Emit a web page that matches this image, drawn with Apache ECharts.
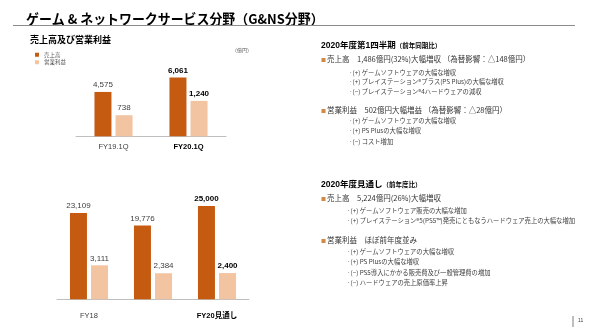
<!DOCTYPE html>
<html>
<head>
<meta charset="utf-8">
<script src="https://cdn.jsdelivr.net/npm/echarts@6/dist/echarts.min.js"></script>
<style>
html, body { margin: 0; padding: 0; background: #fff; }
#gns_charts { width: 590px; height: 329px; }
</style>
</head>
<body>
<div id="gns_charts"></div>
<script>
// 四半期（億円）
var qCategories = ['FY19.1Q', 'FY20.1Q']
var qSales = [4575, 6061]
var qProfit = [738, 1240]
// 通期（億円）
var yCategories = ['FY18', 'FY19', 'FY20見通し']
var ySales = [23109, 19776, 25000]
var yProfit = [3111, 2384, 2400]
var seriesNames = ['売上高', '営業利益']

var FONT = "'Liberation Sans', 'Noto Sans CJK JP', sans-serif"
var JP = "'Noto Sans CJK JP', sans-serif"
var SALES_COLOR = '#C55A11'
var PROFIT_COLOR = '#F2C4A2'

// 右側のテキスト
var q1Lines = [
  { y: 59.5, main: true, text: '売上高　1,486億円(32%)大幅増収 （為替影響：△148億円）' },
  { y: 72.5, text: '·(+) ゲームソフトウェアの大幅な増収' },
  { y: 82, text: '·(+) プレイステーション®プラス(PS Plus)の大幅な増収' },
  { y: 91.5, text: '·(−) プレイステーション®4ハードウェアの減収' },
  { y: 110.5, main: true, text: '営業利益　502億円大幅増益 （為替影響：△28億円）' },
  { y: 120.5, text: '·(+) ゲームソフトウェアの大幅な増収' },
  { y: 130.5, text: '·(+) PS Plusの大幅な増収' },
  { y: 141.5, text: '·(−) コスト増加' }
]
var fyLines = [
  { y: 198.5, main: true, text: '売上高　5,224億円(26%)大幅増収' },
  { y: 211, text: '·(+) ゲームソフトウェア販売の大幅な増加' },
  { y: 221, text: '·(+) プレイステーション®5(PS5™)発売にともなうハードウェア売上の大幅な増加' },
  { y: 240, main: true, text: '営業利益　ほぼ前年度並み' },
  { y: 251.5, text: '·(+) ゲームソフトウェアの大幅な増収' },
  { y: 261.5, text: '·(+) PS Plusの大幅な増収' },
  { y: 272.5, text: '·(−) PS5導入にかかる販売費及び一般管理費の増加' },
  { y: 283, text: '·(−) ハードウェアの売上原価率上昇' }
]

function fmt (v) {
  return Number(v).toLocaleString('en-US')
}

// 最後の項目だけ太字
function lastBold (data) {
  return data.map(function (v, i) {
    if (i === data.length - 1) {
      return { value: v, label: { fontWeight: 'bold', color: '#000' } }
    }
    return v
  })
}

function barSeries (name, data, xIdx, yIdx, color) {
  return {
    name: name,
    type: 'bar',
    xAxisIndex: xIdx,
    yAxisIndex: yIdx,
    barWidth: 17,
    barGap: '24%',
    itemStyle: { color: color },
    label: {
      show: true,
      position: 'top',
      distance: 3,
      fontSize: 8,
      fontFamily: FONT,
      color: '#404040',
      formatter: function (p) { return fmt(p.value) }
    },
    data: lastBold(data)
  }
}

function xAxisOf (gridIndex, cats, margin) {
  return {
    type: 'category',
    gridIndex: gridIndex,
    data: cats,
    axisLine: { lineStyle: { color: '#BFBFBF', width: 1 } },
    axisTick: { show: false },
    axisLabel: {
      margin: margin,
      fontSize: 7.5,
      fontFamily: FONT,
      color: '#404040',
      formatter: function (v, i) {
        return i === cats.length - 1 ? '{b|' + v + '}' : v
      },
      rich: { b: { fontSize: 7.5, fontWeight: 'bold', color: '#000', fontFamily: FONT } }
    }
  }
}

function yAxisOf (gridIndex, max) {
  return { type: 'value', gridIndex: gridIndex, min: 0, max: max, show: false }
}

function textBlock (lines, mainX, subX) {
  var out = []
  lines.forEach(function (l) {
    if (l.main) {
      out.push({
        type: 'text', x: mainX, y: l.y,
        style: { text: '■', fontSize: 5, fontFamily: JP, fill: '#D08A45', verticalAlign: 'middle' }
      })
      out.push({
        type: 'text', x: mainX + 6, y: l.y,
        style: { text: l.text, fontSize: 7.5, fontFamily: JP, fill: '#333', verticalAlign: 'middle' }
      })
    } else {
      out.push({
        type: 'text', x: subX, y: l.y,
        style: { text: l.text, fontSize: 6.3, fontFamily: JP, fill: '#404040', verticalAlign: 'middle' }
      })
    }
  })
  return out
}

var graphics = [
  {
    type: 'text', x: 26, y: 18.5, scaleX: 0.98,
    style: { text: 'ゲーム & ネットワークサービス分野（G&NS分野）', fontSize: 13.2, fontWeight: 'bold', fontFamily: JP, fill: '#000', verticalAlign: 'middle' }
  },
  { type: 'line', shape: { x1: 13, y1: 25.5, x2: 575, y2: 25.5 }, style: { stroke: '#8C8C8C', lineWidth: 1 } },
  {
    type: 'text', x: 30, y: 39.5,
    style: { text: '売上高及び営業利益', fontSize: 9, fontWeight: 'bold', fontFamily: JP, fill: '#000', verticalAlign: 'middle' }
  },
  {
    type: 'text', x: 232, y: 50,
    style: { text: '（億円）', fontSize: 5, fontFamily: JP, fill: '#595959', verticalAlign: 'middle' }
  },
  {
    type: 'text', x: 321, y: 45.5,
    style: {
      text: '2020年度第1四半期{s|（前年同期比）}', fontSize: 8.5, fontWeight: 'bold', fontFamily: FONT, fill: '#000', verticalAlign: 'middle',
      rich: { s: { fontSize: 6.5, fontWeight: 'bold', fontFamily: JP, fill: '#000' } }
    }
  },
  {
    type: 'text', x: 321, y: 185,
    style: {
      text: '2020年度見通し{s|（前年度比）}', fontSize: 8.5, fontWeight: 'bold', fontFamily: FONT, fill: '#000', verticalAlign: 'middle',
      rich: { s: { fontSize: 6.5, fontWeight: 'bold', fontFamily: JP, fill: '#000' } }
    }
  },
  { type: 'line', shape: { x1: 573, y1: 316, x2: 573, y2: 327 }, style: { stroke: '#7F7F7F', lineWidth: 1 } },
  {
    type: 'text', x: 578, y: 321,
    style: { text: '11', fontSize: 5, fontFamily: FONT, fill: '#404040', verticalAlign: 'middle' }
  }
].concat(textBlock(q1Lines, 321, 349)).concat(textBlock(fyLines, 321, 347))

var option = {
  animation: false,
  textStyle: { fontFamily: FONT },
  legend: {
    left: 30,
    top: 47,
    orient: 'vertical',
    itemWidth: 4,
    itemHeight: 4,
    itemGap: 2,
    icon: 'rect',
    data: seriesNames,
    textStyle: { fontSize: 5.5, color: '#595959', fontFamily: JP }
  },
  grid: [
    { left: 76, width: 150, top: 66.3, height: 70 },
    { left: 57, width: 192, top: 187.3, height: 112 }
  ],
  xAxis: [
    xAxisOf(0, qCategories, 7),
    xAxisOf(1, yCategories, 13)
  ],
  yAxis: [
    yAxisOf(0, 7220),
    yAxisOf(0, 2450),
    yAxisOf(1, 30000),
    yAxisOf(1, 10250)
  ],
  series: [
    barSeries(seriesNames[0], qSales, 0, 0, SALES_COLOR),
    barSeries(seriesNames[1], qProfit, 0, 1, PROFIT_COLOR),
    barSeries(seriesNames[0], ySales, 1, 2, SALES_COLOR),
    barSeries(seriesNames[1], yProfit, 1, 3, PROFIT_COLOR)
  ],
  graphic: graphics
}

var myChart = echarts.init(document.getElementById('gns_charts'))
myChart.setOption(option)
window.onresize = myChart.resize
</script>
</body>
</html>
